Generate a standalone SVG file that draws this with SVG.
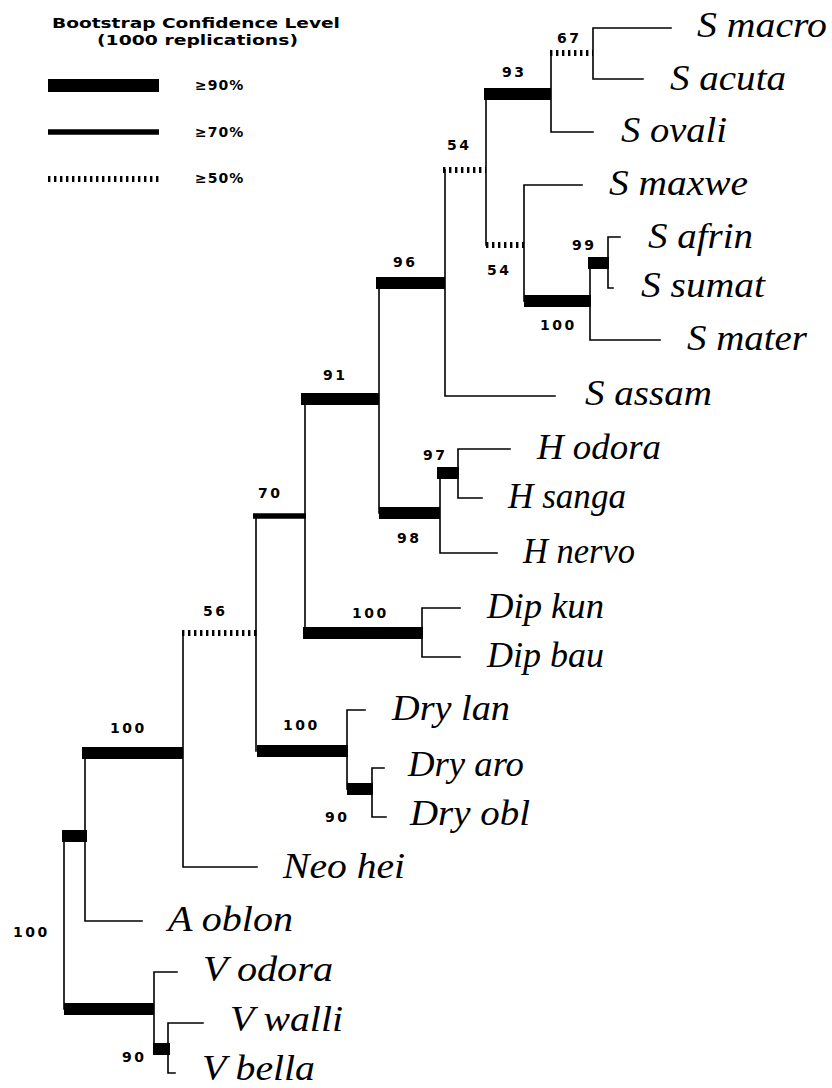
<svg xmlns="http://www.w3.org/2000/svg" width="832" height="1088" viewBox="0 0 832 1088">
  <style>
    .thin { fill: none; stroke: #000; stroke-width: 1.6; stroke-linecap: square; }
    .b90 { fill: #000; }
    .b70 { stroke: #000; stroke-width: 5.5; }
    .b50 { stroke: #000; stroke-width: 6; stroke-dasharray: 2.4 3.6; }
    .taxon { font-family: "Liberation Serif", "Times New Roman", serif; font-style: italic; font-size: 35px; fill: #000; }
    .boot { font-family: "DejaVu Sans", "Liberation Sans", sans-serif; font-weight: bold; font-size: 14px; letter-spacing: 2.5px; fill: #000; }
    .legend-title { font-family: "DejaVu Sans", "Liberation Sans", sans-serif; font-weight: bold; font-size: 14.5px; fill: #000; }
    .legend-label { font-family: "DejaVu Sans", "Liberation Sans", sans-serif; font-weight: bold; font-size: 14px; letter-spacing: 1px; fill: #000; }
  </style>

  <!-- Legend -->
  <g id="legend">
    <text class="legend-title" x="52" y="28" textLength="288" lengthAdjust="spacingAndGlyphs">Bootstrap Confidence Level</text>
    <text class="legend-title" x="97" y="45" textLength="201" lengthAdjust="spacingAndGlyphs">(1000 replications)</text>
    <rect class="b90" x="48" y="79" width="111" height="13"/>
    <line class="b70" x1="48" y1="132" x2="159" y2="132"/>
    <line class="b50" x1="48" y1="179" x2="159" y2="179"/>
    <text class="legend-label" x="195" y="90">≥90%</text>
    <text class="legend-label" x="195" y="137">≥70%</text>
    <text class="legend-label" x="195" y="183">≥50%</text>
  </g>

  <!-- Branches -->
  <g id="connectors">
    <!-- thin vertical and terminal branches -->
    <path class="thin" d="
      M64,836 V1009
      M85,753 V921 H142
      M183,633 V867 H257
      M256,516 V751
      M305,399 V633
      M379,283 V513
      M445,170 V396 H555
      M486,94 V245
      M551,53 V132 H593
      M671,28 H593 V79 H643
      M582,185 H524 V301
      M590,263 V340 H660
      M620,237 H608 V288 H613
      M440,473 V553 H497
      M510,449 H458 V498 H482
      M460,608 H422 V657 H460
      M365,710 H347 V789
      M384,768 H372 V817 H386
      M177,972 H154 V1049
      M203,1023 H168 V1073 H175"/>
    <!-- >=90% support -->
    <rect class="b90" x="484" y="88" width="67" height="12"/>
    <rect class="b90" x="376" y="277" width="69" height="12"/>
    <rect class="b90" x="301" y="393" width="78" height="12"/>
    <rect class="b90" x="379" y="507" width="61" height="12"/>
    <rect class="b90" x="437" y="467" width="22" height="12"/>
    <rect class="b90" x="588" y="257" width="21" height="12"/>
    <rect class="b90" x="524" y="295" width="67" height="12"/>
    <rect class="b90" x="303" y="627" width="120" height="12"/>
    <rect class="b90" x="257" y="745" width="91" height="12"/>
    <rect class="b90" x="347" y="783" width="26" height="12"/>
    <rect class="b90" x="82" y="747" width="101" height="12"/>
    <rect class="b90" x="62" y="830" width="25" height="12"/>
    <rect class="b90" x="64" y="1003" width="90" height="12"/>
    <rect class="b90" x="153" y="1043" width="17" height="12"/>
    <!-- >=70% support -->
    <line class="b70" x1="253" y1="516" x2="306" y2="516"/>
    <!-- >=50% support -->
    <line class="b50" x1="550" y1="53" x2="593" y2="53"/>
    <line class="b50" x1="443" y1="170" x2="486" y2="170"/>
    <line class="b50" x1="486" y1="245" x2="524" y2="245"/>
    <line class="b50" x1="182" y1="633" x2="257" y2="633"/>
  </g>

  <!-- Bootstrap values -->
  <g id="n67"><text class="boot" x="557" y="43">67</text></g>
  <g id="n93"><text class="boot" x="502" y="77">93</text></g>
  <g id="n54a"><text class="boot" x="447" y="150">54</text></g>
  <g id="n54b"><text class="boot" x="487" y="275">54</text></g>
  <g id="n96"><text class="boot" x="393" y="267">96</text></g>
  <g id="n99"><text class="boot" x="572" y="250">99</text></g>
  <g id="n100s"><text class="boot" x="540" y="330">100</text></g>
  <g id="n91"><text class="boot" x="323" y="380">91</text></g>
  <g id="n97"><text class="boot" x="423" y="460">97</text></g>
  <g id="n98"><text class="boot" x="397" y="543">98</text></g>
  <g id="n70"><text class="boot" x="258" y="498">70</text></g>
  <g id="n56"><text class="boot" x="203" y="616">56</text></g>
  <g id="n100dip"><text class="boot" x="352" y="618">100</text></g>
  <g id="n100dry"><text class="boot" x="283" y="730">100</text></g>
  <g id="n90dry"><text class="boot" x="325" y="822">90</text></g>
  <g id="n100ing"><text class="boot" x="110" y="733">100</text></g>
  <g id="n100root"><text class="boot" x="13" y="937">100</text></g>
  <g id="n90v"><text class="boot" x="122" y="1062">90</text></g>

  <!-- Taxa -->
  <g id="s-macro"><text class="taxon" x="697" y="37" textLength="130" lengthAdjust="spacingAndGlyphs">S macro</text></g>
  <g id="s-acuta"><text class="taxon" x="670" y="90" textLength="116" lengthAdjust="spacingAndGlyphs">S acuta</text></g>
  <g id="s-ovali"><text class="taxon" x="621" y="142" textLength="106" lengthAdjust="spacingAndGlyphs">S ovali</text></g>
  <g id="s-maxwe"><text class="taxon" x="609" y="195" textLength="139" lengthAdjust="spacingAndGlyphs">S maxwe</text></g>
  <g id="s-afrin"><text class="taxon" x="648" y="248" textLength="105" lengthAdjust="spacingAndGlyphs">S afrin</text></g>
  <g id="s-sumat"><text class="taxon" x="641" y="297" textLength="124" lengthAdjust="spacingAndGlyphs">S sumat</text></g>
  <g id="s-mater"><text class="taxon" x="687" y="350" textLength="120" lengthAdjust="spacingAndGlyphs">S mater</text></g>
  <g id="s-assam"><text class="taxon" x="585" y="405" textLength="127" lengthAdjust="spacingAndGlyphs">S assam</text></g>
  <g id="h-odora"><text class="taxon" x="537" y="459" textLength="124" lengthAdjust="spacingAndGlyphs">H odora</text></g>
  <g id="h-sanga"><text class="taxon" x="508" y="508" textLength="118" lengthAdjust="spacingAndGlyphs">H sanga</text></g>
  <g id="h-nervo"><text class="taxon" x="523" y="563" textLength="112" lengthAdjust="spacingAndGlyphs">H nervo</text></g>
  <g id="dip-kun"><text class="taxon" x="487" y="618" textLength="117" lengthAdjust="spacingAndGlyphs">Dip kun</text></g>
  <g id="dip-bau"><text class="taxon" x="487" y="667" textLength="117" lengthAdjust="spacingAndGlyphs">Dip bau</text></g>
  <g id="dry-lan"><text class="taxon" x="392" y="720" textLength="118" lengthAdjust="spacingAndGlyphs">Dry lan</text></g>
  <g id="dry-aro"><text class="taxon" x="408" y="776" textLength="116" lengthAdjust="spacingAndGlyphs">Dry aro</text></g>
  <g id="dry-obl"><text class="taxon" x="410" y="825" textLength="120" lengthAdjust="spacingAndGlyphs">Dry obl</text></g>
  <g id="neo-hei"><text class="taxon" x="283" y="878" textLength="122" lengthAdjust="spacingAndGlyphs">Neo hei</text></g>
  <g id="a-oblon"><text class="taxon" x="168" y="931" textLength="125" lengthAdjust="spacingAndGlyphs">A oblon</text></g>
  <g id="v-odora"><text class="taxon" x="203" y="981" textLength="130" lengthAdjust="spacingAndGlyphs">V odora</text></g>
  <g id="v-walli"><text class="taxon" x="230" y="1031" textLength="113" lengthAdjust="spacingAndGlyphs">V walli</text></g>
  <g id="v-bella"><text class="taxon" x="202" y="1080" textLength="113" lengthAdjust="spacingAndGlyphs">V bella</text></g>
</svg>
